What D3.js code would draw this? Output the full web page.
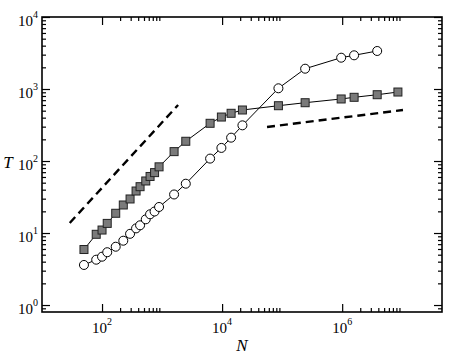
<!DOCTYPE html>
<html>
<head>
<meta charset="utf-8">
<script src="https://cdn.jsdelivr.net/npm/d3@7"></script>
<style>
  body { margin: 0; background: #fff; }
  svg { display: block; }
  .tick line { stroke: #000; stroke-width: 1.2; }
  .lbl { font-family: "Liberation Serif", "Times New Roman", serif; fill: #000; }
</style>
</head>
<body>
<svg width="458" height="354"></svg>
<script>
// system sizes N shared by both series
var sizes = [50, 80, 100, 122, 169, 226, 293, 369, 430, 535, 631, 750, 891, 1585, 2483,
             6310, 9730, 14125, 21800, 86700, 241600, 962000, 1580000, 3830000, 8480000];
// squares (gray)
var squareT = [5.9, 9.6, 11.0, 13.6, 18.8, 24.5, 29.7, 38.3, 44, 52.8, 61, 69, 83, 135, 188,
               334, 408, 460, 511, 586, 645, 727, 767, 833, 908];
// circles (open) - no point at the largest N
var circleT = [3.6, 4.26, 4.69, 5.41, 6.45, 7.82, 9.75, 11.6, 12.8, 15.5, 18.2, 19.9, 23.0, 34.3, 48.4,
               108, 152, 211, 313, 1023, 1914, 2721, 2938, 3373];
// dashed guide lines
var guideA_N = [29, 1850],   guideA_T = [13.8, 600];
var guideB_N = [56000, 1.03e7], guideB_T = [297, 511];

// ticks
var xMajor = [1e2, 1e4, 1e6];
var xMajorExp = ["2", "4", "6"];
var xMinor = [];
xMajor.forEach(function(m) { for (var k = 2; k <= 9; k++) xMinor.push(k * m); });
var yMajor = [1, 10, 100, 1000, 10000];
var yMajorExp = ["0", "1", "2", "3", "4"];
var yMinor = [0.9];
[1, 10, 100, 1000].forEach(function(m) { for (var k = 2; k <= 9; k++) yMinor.push(k * m); });

var svg = d3.select("svg"),
    margin = {top: 17, right: 16, bottom: 42, left: 42},
    width = +svg.attr("width") - margin.left - margin.right,
    height = +svg.attr("height") - margin.top - margin.bottom;

var x = d3.scaleLog().domain([10, 4.6e7]).range([0, width]),
    y = d3.scaleLog().domain([0.8, 1e4]).range([height, 0]);

var g = svg.append("g")
    .attr("transform", "translate(" + margin.left + "," + margin.top + ")");

function ticks(axisFn, vals, size, transform) {
  var a = g.append("g")
      .attr("transform", transform || null)
      .call(axisFn.tickValues(vals).tickSizeInner(size).tickSizeOuter(0).tickFormat(""));
  a.select(".domain").remove();
}

// inward ticks on all four sides
ticks(d3.axisBottom(x), xMajor, -8, "translate(0," + height + ")");
ticks(d3.axisBottom(x), xMinor, -4, "translate(0," + height + ")");
ticks(d3.axisTop(x), xMajor, -8);
ticks(d3.axisTop(x), xMinor, -4);
ticks(d3.axisLeft(y), yMajor, -8);
ticks(d3.axisLeft(y), yMinor, -4);
ticks(d3.axisRight(y), yMajor, -8, "translate(" + width + ",0)");
ticks(d3.axisRight(y), yMinor, -4, "translate(" + width + ",0)");

g.append("rect")
    .attr("width", width).attr("height", height)
    .attr("fill", "none").attr("stroke", "#000").attr("stroke-width", 1.6);

// tick labels 10^k
xMajor.forEach(function(v, i) {
  var t = g.append("text").attr("class", "lbl")
      .attr("x", x(v)).attr("y", height + 21)
      .attr("text-anchor", "middle").style("font-size", "15px");
  t.append("tspan").text("10");
  t.append("tspan").attr("dy", -8).style("font-size", "10px").text(xMajorExp[i]);
});
yMajor.forEach(function(v, i) {
  var t = g.append("text").attr("class", "lbl")
      .attr("x", -4).attr("y", y(v) + 9)
      .attr("text-anchor", "end").style("font-size", "15px");
  t.append("tspan").text("10");
  t.append("tspan").attr("dy", -8).style("font-size", "10px").text(yMajorExp[i]);
});

// axis titles
svg.append("text").attr("class", "lbl")
    .attr("x", 242).attr("y", 351).attr("text-anchor", "middle")
    .style("font-size", "17px").style("font-style", "italic").text("N");
svg.append("text").attr("class", "lbl")
    .attr("x", 8).attr("y", 168).attr("text-anchor", "middle")
    .style("font-size", "17px").style("font-style", "italic").text("T");

// dashed guides
var line = d3.line()
    .x(function(d) { return x(d[0]); })
    .y(function(d) { return y(d[1]); });

[[guideA_N, guideA_T], [guideB_N, guideB_T]].forEach(function(gd) {
  g.append("path")
      .datum(d3.zip(gd[0], gd[1]))
      .attr("d", line)
      .attr("fill", "none").attr("stroke", "#000")
      .attr("stroke-width", 2.4).attr("stroke-dasharray", "8,5");
});

// series
var sqData = d3.zip(sizes, squareT);
var ciData = d3.zip(sizes.slice(0, circleT.length), circleT);

g.append("path").datum(sqData).attr("d", line)
    .attr("fill", "none").attr("stroke", "#000").attr("stroke-width", 1);
g.append("path").datum(ciData).attr("d", line)
    .attr("fill", "none").attr("stroke", "#000").attr("stroke-width", 1);

g.selectAll(".sq")
  .data(sqData)
  .enter().append("rect")
    .attr("class", "sq")
    .attr("x", function(d) { return x(d[0]) - 4; })
    .attr("y", function(d) { return y(d[1]) - 4; })
    .attr("width", 8).attr("height", 8)
    .attr("fill", "#7a7a7a").attr("stroke", "#222").attr("stroke-width", 1);

g.selectAll(".ci")
  .data(ciData)
  .enter().append("circle")
    .attr("class", "ci")
    .attr("cx", function(d) { return x(d[0]); })
    .attr("cy", function(d) { return y(d[1]); })
    .attr("r", 4.5)
    .attr("fill", "#fff").attr("stroke", "#000").attr("stroke-width", 1);
</script>
</body>
</html>
